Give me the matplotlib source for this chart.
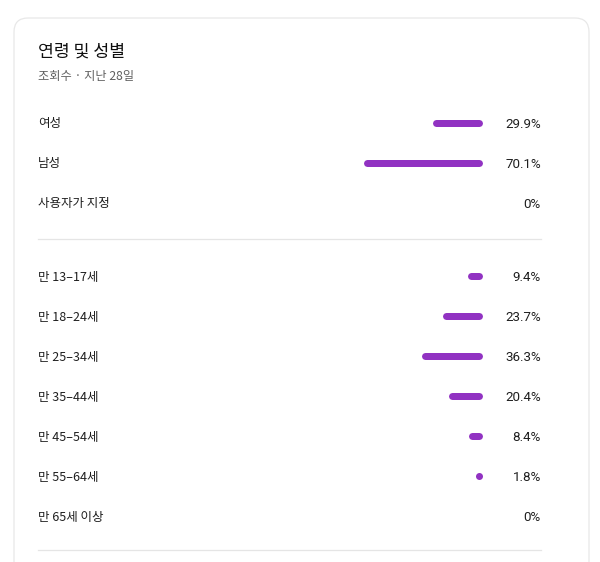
import matplotlib
matplotlib.use('Agg')
import matplotlib.pyplot as plt
from matplotlib.patches import FancyBboxPatch

plt.rcParams['font.family'] = ['Noto Sans CJK KR', 'DejaVu Sans']

# ── Data ──────────────────────────────────────────────────────────────
TITLE    = '연령 및 성별'
SUBTITLE = '조회수 · 지난 28일'

GENDER_LABELS = ['여성', '남성', '사용자가 지정']
GENDER_VALUES = [29.9, 70.1, 0.0]
GENDER_TEXT   = ['29.9%', '70.1%', '0%']

AGE_LABELS = ['만 13–17세', '만 18–24세', '만 25–34세', '만 35–44세',
              '만 45–54세', '만 55–64세', '만 65세 이상']
AGE_VALUES = [9.4, 23.7, 36.3, 20.4, 8.4, 1.8, 0.0]
AGE_TEXT   = ['9.4%', '23.7%', '36.3%', '20.4%', '8.4%', '1.8%', '0%']

# ── Style ─────────────────────────────────────────────────────────────
W, H = 600, 562
BAR_COLOR = '#9132c2'
TXT       = '#1f1f1f'
SUB       = '#606060'
LINE      = '#e5e5e5'
BAR_PX    = 7          # bar thickness in pixels
BAR_RIGHT = 483        # right edge of bars (px)
BAR_SPAN  = 170        # px for 100 %
DY        = 1.5        # baseline nudge for text

fig = plt.figure(figsize=(W / 100, H / 100), dpi=100)
ax = fig.add_axes([0, 0, 1, 1])
ax.set_xlim(0, W)
ax.set_ylim(H, 0)
ax.axis('off')

# card
ax.add_patch(FancyBboxPatch((14, 18), 575, 600,
                            boxstyle='round,pad=0,rounding_size=14',
                            facecolor='white', edgecolor='#e8e8e8', linewidth=0.9))

ax.text(38, 51.5, TITLE, fontsize=12.4, color='#0f0f0f', va='center', ha='left',
        fontweight='medium')
ax.text(38, 76.5, SUBTITLE, fontsize=8.8, color=SUB, va='center', ha='left')

# bar axes: values grow leftwards from BAR_RIGHT
bax = fig.add_axes([(BAR_RIGHT - BAR_SPAN) / W, 0, BAR_SPAN / W, 1])
bax.set_xlim(100, 0)
bax.set_ylim(H, 0)
bax.axis('off')

lw_pt = BAR_PX * 72 / 100
half = (BAR_PX / 2) * 100 / BAR_SPAN   # half cap width in data units


def draw_rows(labels, values, texts, y0):
    for i, (lab, v, t) in enumerate(zip(labels, values, texts)):
        y = y0 + i * 40
        ax.text(38, y + 1, lab, fontsize=9.0, color=TXT, va='center', ha='left')
        ax.text(541, y + DY, t, fontsize=9.6, color=TXT, va='center', ha='right',
                family=['Roboto', 'DejaVu Sans'])
        if v <= 0:
            continue
        if v <= 2 * half:
            bax.plot([half], [y], 'o', color=BAR_COLOR, markersize=lw_pt,
                     markeredgewidth=0)
        else:
            bax.plot([half, v - half], [y, y], color=BAR_COLOR, linewidth=lw_pt,
                     solid_capstyle='round')


draw_rows(GENDER_LABELS, GENDER_VALUES, GENDER_TEXT, 123)
ax.plot([38, 541], [239, 239], color=LINE, linewidth=0.9)
draw_rows(AGE_LABELS, AGE_VALUES, AGE_TEXT, 276)
ax.plot([38, 541], [550, 550], color=LINE, linewidth=0.9)

fig.savefig('out.png', dpi=100, facecolor='white')
